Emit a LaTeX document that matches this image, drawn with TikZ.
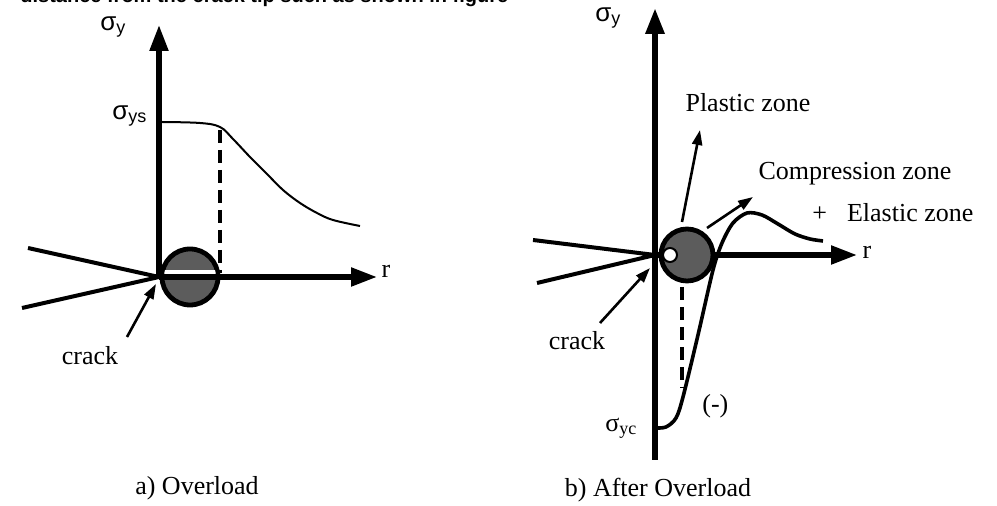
\documentclass[tikz,border=0pt]{standalone}
\usepackage{fontspec}
\setmainfont{Liberation Serif}
\setsansfont{Liberation Sans}
\usetikzlibrary{arrows.meta}
\definecolor{zonegray}{RGB}{92,92,92}
\newcommand{\sigsub}[1]{σ\raisebox{-1.5pt}{\fontsize{9}{9}\selectfont #1}}
\tikzset{
  axisline/.style={line width=2.6pt, -{Triangle[length=13pt,width=9pt]}},
  flank/.style={line width=2pt},
  ptr/.style={line width=1.3pt, -{Triangle[length=7.5pt,width=5pt]}},
  guide/.style={line width=2pt, dash pattern=on 6.5pt off 3.5pt},
  stress/.style={line width=1pt},
  zone/.style={circle, draw, line width=2.4pt, fill=zonegray, inner sep=0pt},
  hole/.style={circle, draw, line width=1pt, fill=white, minimum size=7pt, inner sep=0pt},
  lbl/.style={font=\fontsize{13}{15}\selectfont, inner sep=0pt, anchor=base},
  sig/.style={lbl, font=\sffamily\fontsize{13}{15}\selectfont, anchor=base west},
  headtxt/.style={font=\sffamily\bfseries\fontsize{10}{12}\selectfont, inner sep=0pt, anchor=base west, overlay}
}

\begin{document}
\begin{tikzpicture}[x=0.5pt, y=-0.5pt]
\clip (0,0) rectangle (997,506);
\node[headtxt] (head) at (20,3) {distance from the crack tip such as shown in figure};

% a) Overload
\coordinate (ta) at (159,277);
\coordinate (ya) at (159,25);
\coordinate (ra) at (377,277);
\coordinate (fa1) at (28,248);
\coordinate (fa2) at (22,308);
\draw[flank] (fa1) -- (ta) -- (fa2);
\node[zone, minimum size=28pt] (pza) at (190,277) {};
\begin{scope}
  \clip (pza.center) circle[radius=13pt];
  \fill[white] (150,270) rectangle (230,275);
\end{scope}
\draw[axisline] (ta) -- (ra);
\draw[axisline] (ta) -- (ya);
\coordinate (da1) at (220,130);
\coordinate (da2) at (220,273);
\draw[guide] (da1) -- (da2);
\draw[stress] plot[smooth, tension=0.6] coordinates {(161,122) (200,123) (220,127) (233,139) (250,157) (267,174) (283,190) (300,203) (317,213) (333,220) (360,226)};
\coordinate (cta) at (127,337);
\coordinate (cha) at (156,284);
\draw[ptr] (cta) -- (cha);
\node[lbl] (cka) at (90,365) {crack};
\node[lbl] (rra) at (386,278) {r};
\node[sig] (sya) at (100,31) {\sigsub{y}};
\node[sig] (sys) at (112,120) {\sigsub{ys}};
\node[lbl] (ttla) at (197,495) {a) Overload};

% b) After Overload
\coordinate (tb) at (655,255);
\coordinate (yb) at (655,8);
\coordinate (bb) at (655,460);
\coordinate (rb) at (857,255);
\coordinate (fb1) at (533,240);
\coordinate (fb2) at (537,283);
\draw[flank] (fb1) -- (tb) -- (fb2);
\draw[axisline] (tb) -- (rb);
\node[zone, minimum size=26pt] (pzb) at (687,255) {};
\node[hole] (hb) at (670,255) {};
\draw[axisline, line width=3pt] (bb) -- (yb);
\coordinate (db1) at (682,287);
\coordinate (db2) at (682,388);
\draw[guide] (db1) -- (db2);
\draw[stress, line width=1.8pt] plot[smooth, tension=0.5] coordinates {(655,428) (666,427) (676,418) (683,397) (698,335) (713,270) (722,243) (733,223) (747,213) (762,215) (778,224) (795,234) (810,239) (823,241)};
\coordinate (cpl0) at (682,222);
\coordinate (cpl1) at (700,130);
\draw[ptr] (cpl0) -- (cpl1);
\coordinate (ccp0) at (707,228);
\coordinate (ccp1) at (753,197);
\draw[ptr] (ccp0) -- (ccp1);
\coordinate (ctb) at (600,323);
\coordinate (chb) at (650,268);
\draw[ptr] (ctb) -- (chb);
\node[lbl] (ckb) at (577,350) {crack};
\node[lbl] (rrb) at (867,259) {r};
\node[sig] (syb) at (595,22) {\sigsub{y}};
\node[sig, font=\rmfamily\fontsize{13}{15}\selectfont] (syc) at (605,432) {\sigsub{yc}};
\node[lbl, anchor=base west] (neg) at (702,413) {(-)};
\node[lbl] (plz) at (748,112) {Plastic zone};
\node[lbl] (cpz) at (855,180) {Compression zone};
\node[lbl, anchor=base west] (elz) at (812,222) {+\hspace{10pt}Elastic zone};
\node[lbl] (ttlb) at (658,497) {b) After Overload};
\end{tikzpicture}
\end{document}
